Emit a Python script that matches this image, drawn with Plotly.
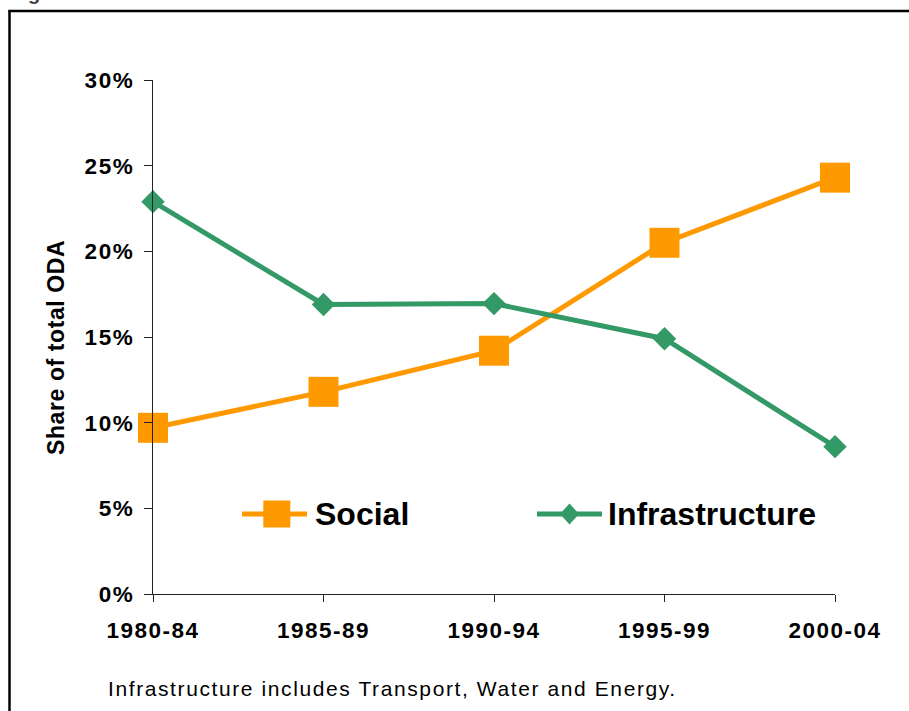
import plotly.graph_objects as go

# ---- data ----
periods = ["1980-84", "1985-89", "1990-94", "1995-99", "2000-04"]
social = [9.7, 11.8, 14.2, 20.5, 24.3]
infrastructure = [22.9, 16.9, 16.95, 14.9, 8.6]
series_names = ["Social", "Infrastructure"]
y_ticks = [0, 5, 10, 15, 20, 25, 30]
y_tick_labels = ["0%", "5%", "10%", "15%", "20%", "25%", "30%"]
y_title = "Share of total ODA"
footnote = "Infrastructure includes Transport, Water and Energy."

ORANGE = "#FF9900"
GREEN = "#339966"
FONT = "Liberation Sans, Arial, sans-serif"

W, H = 909, 711
ML, MR, MT, MB = 153, 74, 80, 117
PW, PH = W - ML - MR, H - MT - MB


def px(x):
    return (x - ML) / PW


def py(y):
    return (H - MB - y) / PH


def spaced(s, sp):
    return f"<span style='letter-spacing:{sp}px'>{s}</span>"


fig = go.Figure()
fig.add_trace(go.Scatter(
    x=periods, y=social, name=series_names[0], mode="lines+markers",
    line=dict(color=ORANGE, width=5),
    marker=dict(symbol="square", size=30, color=ORANGE),
    cliponaxis=False, showlegend=False))
fig.add_trace(go.Scatter(
    x=periods, y=infrastructure, name=series_names[1], mode="lines+markers",
    line=dict(color=GREEN, width=5),
    marker=dict(symbol="diamond", size=18, color=GREEN),
    cliponaxis=False, showlegend=False))

shapes = [
    # outer frame (left and top edges visible)
    dict(type="line", xref="paper", yref="paper", x0=px(9.5), x1=px(9.5),
         y0=py(10), y1=py(730), line=dict(color="black", width=2.5)),
    dict(type="line", xref="paper", yref="paper", x0=px(8.5), x1=px(930),
         y0=py(11), y1=py(11), line=dict(color="black", width=2.5)),
    # legend: Social
    dict(type="line", xref="paper", yref="paper", x0=px(242), x1=px(307),
         y0=py(514), y1=py(514), line=dict(color=ORANGE, width=5)),
    dict(type="rect", xref="paper", yref="paper", x0=px(263.3), x1=px(290.3),
         y0=py(500.5), y1=py(527.5), fillcolor=ORANGE, line=dict(width=0)),
    # legend: Infrastructure
    dict(type="line", xref="paper", yref="paper", x0=px(537), x1=px(602),
         y0=py(514), y1=py(514), line=dict(color=GREEN, width=5)),
    dict(type="path", xref="paper", yref="paper",
         path=(f"M {px(560)} {py(514)} L {px(569.5)} {py(503.5)} "
               f"L {px(579)} {py(514)} L {px(569.5)} {py(524.5)} Z"),
         fillcolor=GREEN, line=dict(width=0)),
]

annotations = [
    dict(text=series_names[0], xref="paper", yref="paper", x=px(313), y=py(514),
         xanchor="left", yanchor="middle", showarrow=False,
         font=dict(family=FONT, size=32, color="black", weight="bold")),
    dict(text=series_names[1], xref="paper", yref="paper", x=px(606), y=py(514),
         xanchor="left", yanchor="middle", showarrow=False,
         font=dict(family=FONT, size=32, color="black", weight="bold")),
    dict(text=spaced(y_title, 0.6), xref="paper", yref="paper", x=px(56), y=py(347),
         xanchor="center", yanchor="middle", textangle=-90, showarrow=False,
         font=dict(family=FONT, size=23, color="black", weight="bold")),
    dict(text=spaced(footnote, 1.6), xref="paper", yref="paper", x=px(392), y=py(688),
         xanchor="center", yanchor="middle", showarrow=False,
         font=dict(family=FONT, size=21, color="black")),
    dict(text="g", xref="paper", yref="paper", x=px(34), y=py(6),
         xanchor="center", yanchor="bottom", showarrow=False,
         font=dict(family=FONT, size=20, color="#444", weight="bold")),
]

fig.update_layout(
    width=W, height=H,
    margin=dict(l=ML, r=MR, t=MT, b=MB, pad=0),
    paper_bgcolor="white", plot_bgcolor="white",
    font=dict(family=FONT, color="black"),
    shapes=shapes, annotations=annotations,
    showlegend=False,
    xaxis=dict(type="category", range=[0, len(periods) - 1], autorange=False,
               tickvals=periods, ticktext=[spaced(p, 1.5) for p in periods],
               showgrid=False, zeroline=False, showline=True,
               linecolor="#222", linewidth=1.2,
               ticks="outside", ticklen=7, tickcolor="#222", tickwidth=1.2,
               tickfont=dict(family=FONT, size=22.5, color="black", weight="bold"),
               ticklabelstandoff=9),
    yaxis=dict(range=[0, 30], autorange=False, tickvals=y_ticks,
               ticktext=[spaced(t, 1.6) for t in y_tick_labels],
               showgrid=False, zeroline=False, showline=True,
               linecolor="#222", linewidth=1.2,
               ticks="outside", ticklen=8, tickcolor="#222", tickwidth=1.2,
               tickfont=dict(family=FONT, size=22.5, color="black", weight="bold"),
               ticklabelstandoff=5),
)

fig.write_html("out.html", config={"displayModeBar": False},
               post_script="document.body.style.margin='0px';")
